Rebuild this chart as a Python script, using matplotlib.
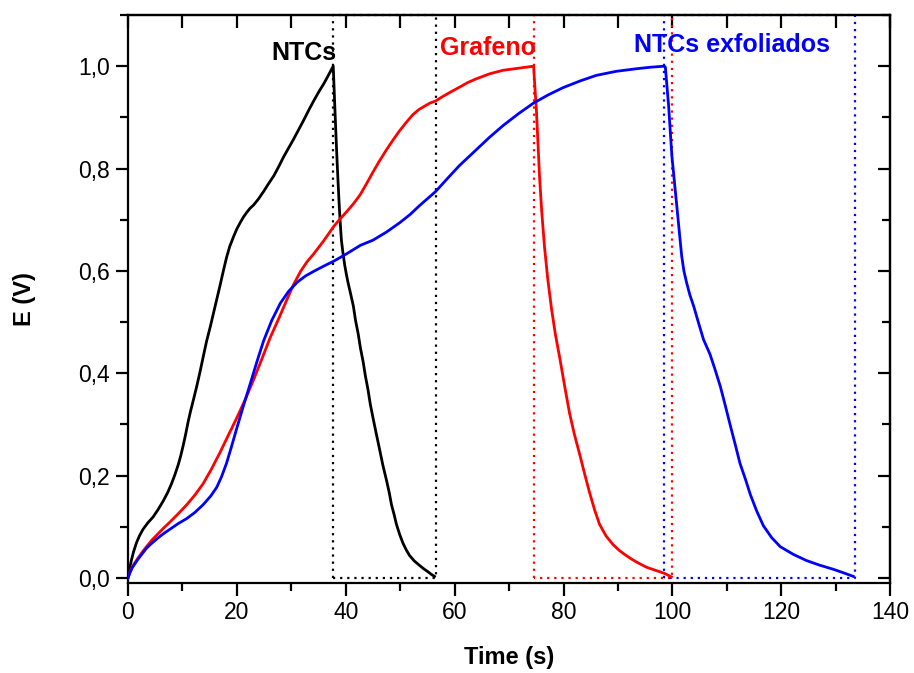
import matplotlib
matplotlib.use("Agg")
import matplotlib.pyplot as plt
from matplotlib.ticker import MultipleLocator, FuncFormatter

plt.rcParams['font.family'] = ['Liberation Sans', 'DejaVu Sans']

# Galvanostatic charge/discharge curves (time in s, potential in V)
ntc_t = [0.0, 0.3, 0.62, 1.0, 1.54, 2.1, 2.77, 3.6, 4.61, 5.5, 6.46, 7.3, 8.0, 8.6, 9.23, 9.7,
         10.15, 10.6, 11.07, 11.5, 12.0, 12.6, 13.2, 13.8, 14.45, 15.1, 15.7, 16.3, 16.9, 17.5,
         18.1, 18.7, 19.4, 20.0, 20.6, 21.2, 21.8, 22.4, 23.1, 24.0, 24.9, 25.8, 26.8, 27.7,
         28.6, 29.5, 30.4, 31.3, 32.3, 33.2, 34.1, 35.0, 35.98, 36.8, 37.7,
         38.0, 38.2, 38.4, 38.6, 38.8, 39.0, 39.2, 39.5, 39.8, 40.1, 40.4, 40.9, 41.4, 41.8,
         42.3, 42.7, 43.2, 43.6, 44.1, 44.5, 45.0, 45.6, 46.2, 46.8, 47.5, 48.0, 48.4, 48.9,
         49.3, 49.9, 50.5, 51.1, 51.7, 52.6, 53.6, 54.3, 55.1, 55.7, 56.3]
ntc_e = [0.0, 0.018, 0.034, 0.050, 0.068, 0.082, 0.095, 0.107, 0.119, 0.133, 0.150, 0.167, 0.184,
         0.201, 0.221, 0.239, 0.259, 0.281, 0.306, 0.326, 0.347, 0.373, 0.401, 0.431, 0.463,
         0.490, 0.517, 0.544, 0.571, 0.599, 0.626, 0.648, 0.667, 0.682, 0.694, 0.705, 0.714,
         0.722, 0.729, 0.741, 0.755, 0.770, 0.786, 0.804, 0.823, 0.840, 0.857, 0.875, 0.895,
         0.914, 0.932, 0.949, 0.966, 0.982, 1.0,
         0.918, 0.866, 0.816, 0.771, 0.728, 0.692, 0.660, 0.634, 0.612, 0.594, 0.578, 0.555,
         0.531, 0.503, 0.476, 0.449, 0.422, 0.395, 0.367, 0.340, 0.313, 0.282, 0.252, 0.221,
         0.190, 0.166, 0.143, 0.123, 0.105, 0.085, 0.068, 0.055, 0.044, 0.033, 0.024, 0.018,
         0.012, 0.007, 0.003]

graf_t = [0.0, 0.4, 0.8, 1.8, 2.6, 3.4, 4.4, 5.5, 6.6, 7.7, 9.2, 10.8, 12.3, 13.8, 15.3, 16.9,
          18.4, 20.0, 21.6, 23.1, 24.6, 26.1, 27.7, 29.2, 30.4, 31.7, 32.9, 34.1, 35.9, 37.8,
          39.0, 40.2, 41.4, 42.6, 43.8, 45.0, 46.2, 47.5, 48.7, 49.9, 51.1, 52.3, 53.4, 54.5,
          55.5, 56.5, 57.7, 59.0, 60.9, 62.4, 63.9, 66.4, 68.9, 71.7, 74.5,
          74.7, 75.0, 75.3, 75.6, 76.0, 76.5, 77.1, 77.8, 78.5, 79.3, 80.2, 81.1, 82.0, 83.0,
          83.9, 84.8, 85.7, 86.6, 87.8, 89.1, 90.2, 91.2, 92.3, 93.4, 95.2, 97.1, 98.5, 99.8]
graf_e = [0.0, 0.012, 0.022, 0.038, 0.050, 0.061, 0.074, 0.086, 0.098, 0.109, 0.125, 0.143,
          0.162, 0.184, 0.212, 0.245, 0.278, 0.313, 0.350, 0.388, 0.428, 0.469, 0.507, 0.544,
          0.573, 0.599, 0.618, 0.633, 0.658, 0.687, 0.702, 0.716, 0.731, 0.748, 0.770, 0.793,
          0.815, 0.837, 0.856, 0.874, 0.890, 0.905, 0.915, 0.922, 0.928, 0.932, 0.940, 0.948,
          0.959, 0.968, 0.975, 0.985, 0.992, 0.996, 1.0,
          0.965, 0.917, 0.850, 0.782, 0.715, 0.647, 0.584, 0.525, 0.476, 0.430, 0.375, 0.322,
          0.280, 0.240, 0.202, 0.166, 0.133, 0.105, 0.082, 0.065, 0.054, 0.046, 0.038, 0.031,
          0.021, 0.014, 0.009, 0.002]

exf_t = [0.0, 0.4, 0.8, 1.8, 2.6, 3.4, 4.4, 5.5, 6.6, 7.7, 9.2, 10.8, 12.3, 13.8, 15.2, 16.3,
         17.2, 18.1, 19.0, 20.0, 21.2, 22.5, 23.7, 24.9, 26.4, 28.0, 29.5, 31.1, 32.6, 34.1,
         35.9, 37.8, 40.1, 42.7, 45.0, 47.5, 49.9, 51.8, 53.6, 56.5, 58.8, 60.9, 63.9, 66.4,
         68.9, 71.7, 74.5, 77.2, 79.9, 83.0, 86.0, 89.7, 93.4, 96.0, 98.5,
         98.7, 99.0, 99.3, 99.6, 99.9, 100.2, 100.5, 100.8, 101.1, 101.4, 101.7, 102.1, 102.6,
         103.2, 103.9, 104.8, 105.7, 106.9, 107.8, 108.8, 109.7, 110.6, 111.5, 112.4, 113.4,
         114.3, 115.5, 116.7, 118.2, 119.8, 122.2, 124.6, 127.0, 129.5, 131.4, 133.2]
exf_e = [0.0, 0.011, 0.02, 0.036, 0.047, 0.058, 0.068, 0.078, 0.087, 0.095, 0.106, 0.116, 0.128,
         0.143, 0.160, 0.177, 0.198, 0.224, 0.256, 0.293, 0.336, 0.381, 0.423, 0.463, 0.503,
         0.537, 0.560, 0.578, 0.590, 0.599, 0.609, 0.619, 0.633, 0.650, 0.660, 0.676, 0.694,
         0.710, 0.728, 0.755, 0.782, 0.806, 0.836, 0.861, 0.884, 0.907, 0.928, 0.944, 0.958,
         0.971, 0.982, 0.990, 0.995, 0.998, 1.0,
         0.998, 0.960, 0.922, 0.873, 0.824, 0.792, 0.759, 0.727, 0.694, 0.661, 0.629, 0.600,
         0.577, 0.553, 0.531, 0.498, 0.466, 0.437, 0.408, 0.374, 0.337, 0.299, 0.262, 0.224,
         0.193, 0.163, 0.130, 0.102, 0.079, 0.061, 0.046, 0.034, 0.025, 0.017, 0.010, 0.003]

# Discharge windows (start, end) marked with dotted boxes
ntc_window = (37.7, 56.5)
graf_window = (74.5, 100.0)
exf_window = (98.5, 133.5)

labels = ["NTCs", "Grafeno", "NTCs exfoliados"]
label_x = [32.3, 66.2, 111.0]
label_y = [1.012, 1.022, 1.028]
colors = ["black", "#ff0000", "#0000ff"]

x_ticks = [0, 20, 40, 60, 80, 100, 120, 140]
y_ticks = [0.0, 0.2, 0.4, 0.6, 0.8, 1.0]

fig = plt.figure(figsize=(9.14, 6.73), dpi=100)
ax = fig.add_axes([0.140, 0.1337, 0.834, 0.8440])

YTOP = 1.1
for (t0, t1), c in zip([ntc_window, graf_window, exf_window], colors):
    ax.plot([t0, t0, t1, t1, t0], [0, YTOP, YTOP, 0, 0], color=c, lw=1.6,
            linestyle=(0, (1, 2.2)), clip_on=False, zorder=2)

for (t, e), c in zip([(ntc_t, ntc_e), (graf_t, graf_e), (exf_t, exf_e)], colors):
    ax.plot(t, e, color=c, lw=2.0, solid_joinstyle='round', zorder=3)

for lab, lx, ly, c in zip(labels, label_x, label_y, colors):
    ax.text(lx, ly, lab, color=c, fontsize=18, fontweight='bold',
            ha='center', va='baseline', zorder=4)

ax.set_xlim(0, 140)
ax.set_ylim(-0.01, YTOP)
ax.set_xticks(x_ticks)
ax.set_yticks(y_ticks)
ax.xaxis.set_minor_locator(MultipleLocator(10))
ax.yaxis.set_minor_locator(MultipleLocator(0.1))
ax.yaxis.set_major_formatter(FuncFormatter(lambda v, p: f"{v:.1f}".replace('.', ',')))
ax.xaxis.set_major_formatter(FuncFormatter(lambda v, p: f"{v:.0f}"))

for s in ax.spines.values():
    s.set_linewidth(1.6)

ax.tick_params(which='major', direction='out', length=9, width=1.6, labelsize=16.5, pad=4,
               top=False, right=False)
ax.tick_params(which='minor', direction='out', length=5.5, width=1.6, top=False, right=False)

# Inward ticks on the top and right spines
sec_x = ax.secondary_xaxis('top')
sec_x.set_xticks(x_ticks)
sec_x.xaxis.set_minor_locator(MultipleLocator(10))
sec_x.tick_params(which='both', direction='in', length=9, width=1.6, labeltop=False)
sec_x.spines['top'].set_linewidth(1.6)
sec_y = ax.secondary_yaxis('right')
sec_y.set_yticks(y_ticks)
sec_y.yaxis.set_minor_locator(MultipleLocator(0.1))
sec_y.tick_params(which='major', direction='in', length=9, width=1.6, labelright=False)
sec_y.tick_params(which='minor', direction='in', length=5.5, width=1.6)
sec_y.spines['right'].set_linewidth(1.6)

ax.set_xlabel("Time (s)", fontsize=17, fontweight='bold', labelpad=16)
ax.set_ylabel("E (V)", fontsize=17, fontweight='bold', labelpad=30)

fig.savefig("out.png", dpi=100, facecolor='white')
